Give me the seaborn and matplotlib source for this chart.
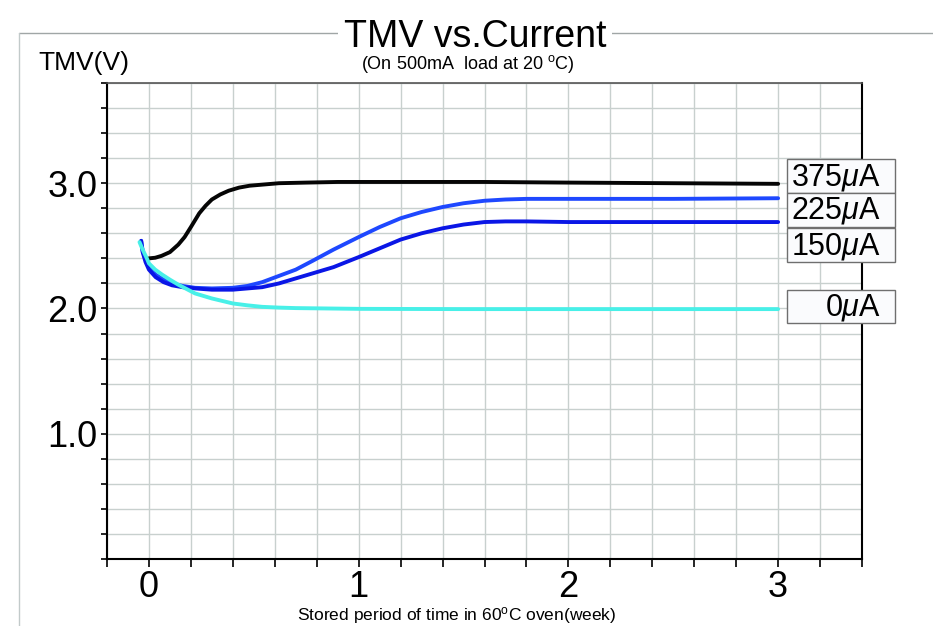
import numpy as np
import pandas as pd
import matplotlib
matplotlib.use("Agg")
import matplotlib.pyplot as plt
from matplotlib.patches import Rectangle
from matplotlib.lines import Line2D
import seaborn as sns

# ---- data ----
x_375 = [0.00, 0.03, 0.06, 0.10, 0.14, 0.17, 0.20, 0.24, 0.27, 0.30, 0.34, 0.38, 0.43,
         0.48, 0.55, 0.62, 0.75, 0.90, 1.20, 1.60, 2.00, 2.50, 3.00]
y_375 = [2.40, 2.405, 2.42, 2.45, 2.51, 2.57, 2.65, 2.76, 2.82, 2.87, 2.91, 2.94, 2.965,
         2.98, 2.99, 3.00, 3.005, 3.01, 3.01, 3.01, 3.005, 3.00, 2.995]

x_225 = [-0.037, -0.03, -0.016, 0.00, 0.032, 0.07, 0.11, 0.16, 0.22, 0.30, 0.40, 0.47,
         0.54, 0.62, 0.70, 0.78, 0.88, 1.00, 1.10, 1.20, 1.30, 1.40, 1.50, 1.60, 1.70,
         1.80, 2.00, 2.50, 3.00]
y_225 = [2.54, 2.46, 2.39, 2.33, 2.27, 2.23, 2.20, 2.18, 2.165, 2.16, 2.165, 2.18,
         2.21, 2.26, 2.31, 2.38, 2.47, 2.57, 2.65, 2.72, 2.77, 2.81, 2.84, 2.86, 2.87,
         2.875, 2.875, 2.875, 2.88]

x_150 = [-0.037, -0.03, -0.016, 0.00, 0.032, 0.07, 0.11, 0.16, 0.22, 0.30, 0.40, 0.47,
         0.54, 0.62, 0.70, 0.80, 0.88, 1.00, 1.10, 1.20, 1.30, 1.40, 1.50, 1.60, 1.70,
         1.80, 2.00, 2.50, 3.00]
y_150 = [2.54, 2.45, 2.37, 2.31, 2.25, 2.21, 2.185, 2.17, 2.16, 2.15, 2.15, 2.16,
         2.17, 2.20, 2.24, 2.29, 2.33, 2.41, 2.48, 2.55, 2.60, 2.64, 2.67, 2.69, 2.695,
         2.695, 2.69, 2.69, 2.69]

x_0 = [-0.045, -0.03, -0.01, 0.00, 0.03, 0.063, 0.10, 0.14, 0.18, 0.22, 0.26, 0.30,
       0.35, 0.40, 0.47, 0.54, 0.62, 0.70, 0.85, 1.00, 1.50, 2.00, 2.50, 3.00]
y_0 = [2.53, 2.47, 2.40, 2.36, 2.31, 2.27, 2.23, 2.19, 2.155, 2.12, 2.10, 2.08,
       2.06, 2.04, 2.025, 2.013, 2.007, 2.003, 2.00, 1.997, 1.995, 1.995, 1.995, 1.995]

series_names = ["375$\\mu$A", "225$\\mu$A", "150$\\mu$A", "0$\\mu$A"]
series_colors = ["#050505", "#1e48ff", "#0a16e6", "#48f0e8"]

x_tick_vals = [0, 1, 2, 3]
x_tick_labels = ["0", "1", "2", "3"]
y_tick_vals = [1.0, 2.0, 3.0]
y_tick_labels = ["1.0", "2.0", "3.0"]

title = "TMV vs.Current"
subtitle = "(On 500mA  load at 20 $^{\\mathrm{o}}$C)"
y_label = "TMV(V)"
x_label = "Stored period of time in 60$^{\\mathrm{o}}$C oven(week)"

# ---- build long-form table ----
frames = []
for name, xs, ys in zip(series_names, [x_375, x_225, x_150, x_0], [y_375, y_225, y_150, y_0]):
    frames.append(pd.DataFrame({"week": xs, "tmv": ys, "series": name}))
df = pd.concat(frames, ignore_index=True)

sns.set_style("white")
plt.rcParams["font.family"] = ["Liberation Sans", "DejaVu Sans"]
plt.rcParams["mathtext.fontset"] = "custom"
plt.rcParams["mathtext.rm"] = "Liberation Sans"
plt.rcParams["mathtext.it"] = "Liberation Sans:italic"
plt.rcParams["mathtext.bf"] = "Liberation Sans:bold"
plt.rcParams["text.color"] = "black"
plt.rcParams["xtick.color"] = "black"
plt.rcParams["ytick.color"] = "black"
plt.rcParams["xtick.labelcolor"] = "black"
plt.rcParams["ytick.labelcolor"] = "black"

W, H = 933, 626
fig = plt.figure(figsize=(W / 100, H / 100), dpi=100)
fig.patch.set_facecolor("white")

def fx(px):
    return px / W

def fy(py):
    return 1 - py / H

ax = fig.add_axes([fx(107), fy(559), fx(862) - fx(107), fy(83) - fy(559)])

sns.lineplot(data=df, x="week", y="tmv", hue="series", hue_order=series_names,
             palette=dict(zip(series_names, series_colors)), sort=False,
             linewidth=2.8, legend=False, ax=ax)

ax.set_xlim(-0.2, 3.4)
ax.set_ylim(0, 3.8)
ax.set_xticks(x_tick_vals)
ax.set_xticklabels(x_tick_labels)
ax.set_yticks(y_tick_vals)
ax.set_yticklabels(y_tick_labels)
ax.set_xticks(np.arange(-0.2, 3.41, 0.2), minor=True)
ax.set_yticks(np.arange(0, 3.81, 0.2), minor=True)
ax.set_xlabel("")
ax.set_ylabel("")

ax.grid(which="both", color="#c8d0ce", linewidth=1.0)
ax.set_axisbelow(True)

ax.tick_params(axis="x", which="both", direction="out", length=5.5, width=1.2,
               color="black", labelcolor="black", labelsize=26, pad=2.5, bottom=True)
ax.tick_params(axis="y", which="both", direction="out", length=4, width=1.2,
               color="black", labelcolor="black", labelsize=26, pad=3, left=True)

for side in ["left", "bottom", "right"]:
    ax.spines[side].set_color("black")
    ax.spines[side].set_linewidth(1.5)
ax.spines["top"].set_color("#555555")
ax.spines["top"].set_linewidth(1.2)

# outer frame
fig.add_artist(Line2D([fx(19), 1.0], [fy(33), fy(33)], transform=fig.transFigure,
                      color="#a0a6a6", linewidth=1.0))
fig.add_artist(Line2D([fx(19), fx(19)], [fy(33), 0.0], transform=fig.transFigure,
                      color="#c2caca", linewidth=1.0))

# titles and labels
fig.text(fx(475), fy(37), title, ha="center", va="center", fontsize=27, color="black",
         bbox=dict(facecolor="white", edgecolor="none", pad=4))
fig.text(fx(468), fy(64), subtitle, ha="center", va="center", fontsize=13, color="black")
fig.text(fx(38), fy(63), y_label, ha="left", va="center", fontsize=19, color="black")
fig.text(fx(457), fy(616), x_label, ha="center", va="center", fontsize=12.5, color="black")

# label boxes at the right end of each line
box_tops = [159, 193, 228, 290]
box_bottoms = [193, 227, 262, 323]
for name, t, b in zip(series_names, box_tops, box_bottoms):
    fig.add_artist(Rectangle((fx(787), fy(b)), fx(895) - fx(787), fy(t) - fy(b),
                             transform=fig.transFigure, facecolor="#fafbfd",
                             edgecolor="#6f6f6f", linewidth=1.0))
    fig.text(fx(881), fy((t + b) / 2 + 1), name, ha="right", va="center", fontsize=22,
             color="black")

fig.savefig("out.png", dpi=100)
